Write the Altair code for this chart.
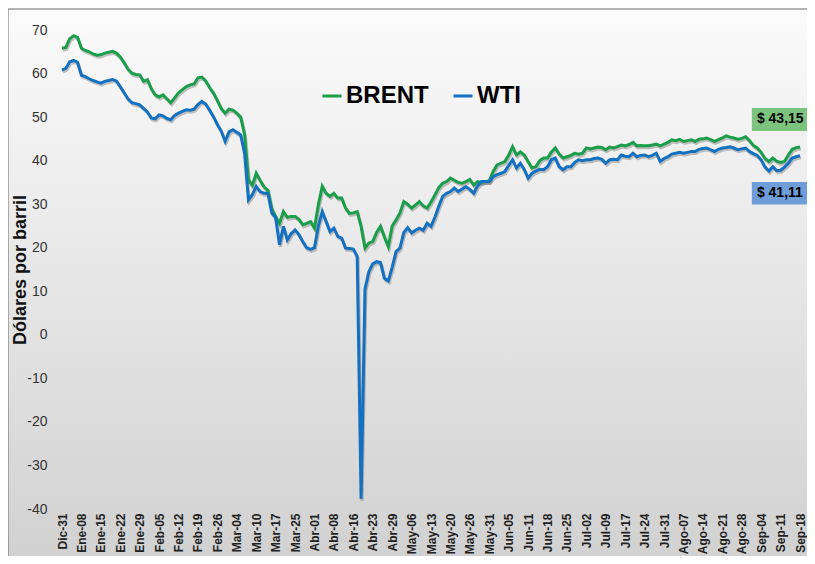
import json
import altair as alt
import pandas as pd

FONT = "Liberation Sans"

# Category labels shown on the x axis (one every 5 trading days)
tick_labels = ["Dic-31", "Ene-08", "Ene-15", "Ene-22", "Ene-29", "Feb-05", "Feb-12",
               "Feb-19", "Feb-26", "Mar-04", "Mar-10", "Mar-17", "Mar-25", "Abr-01",
               "Abr-08", "Abr-16", "Abr-23", "Abr-29", "May-06", "May-13", "May-20",
               "May-26", "May-31", "Jun-05", "Jun-11", "Jun-18", "Jun-25", "Jul-02",
               "Jul-09", "Jul-17", "Jul-24", "Jul-31", "Ago-07", "Ago-14", "Ago-21",
               "Ago-28", "Sep-04", "Sep-11", "Sep-18"]

brent = [
    65.8, 66.0, 68.0, 68.7, 68.3, 65.8, 65.3, 65.0, 64.5, 64.2,
    64.3, 64.7, 64.9, 65.1, 64.7, 63.8, 62.5, 61.0, 60.1, 59.8,
    59.7, 58.2, 58.6, 56.5, 55.1, 54.6, 55.1, 54.2, 53.3, 54.4,
    55.6, 56.3, 57.0, 57.4, 57.6, 59.0, 59.2, 58.3, 56.8, 55.5,
    53.8, 52.0, 50.9, 51.8, 51.6, 50.9, 50.0, 46.0, 35.6, 34.3,
    37.1, 35.5, 34.0, 33.2, 29.0, 27.2, 25.6, 28.3, 27.0, 27.2,
    27.2, 26.5, 25.3, 25.6, 26.0, 24.5, 29.9, 34.1, 32.5, 31.8,
    32.5, 31.4, 31.4, 29.1, 27.9, 28.0, 28.3, 24.9, 19.9, 21.1,
    21.4, 23.5, 24.9, 22.5, 20.3, 25.0, 26.4, 28.0, 30.6, 30.0,
    29.1, 29.8, 30.6, 29.6, 29.1, 30.5, 32.1, 33.8, 34.8, 35.2,
    36.0, 35.5, 35.0, 34.8, 35.2, 35.7, 34.4, 35.2, 35.0, 35.2,
    35.3, 37.5, 39.0, 39.4, 39.8, 41.3, 43.2, 41.3, 42.0, 41.3,
    39.8, 38.3, 38.6, 40.0, 40.6, 40.6, 42.0, 42.9, 41.5, 40.6,
    40.9, 41.2, 41.7, 41.5, 41.7, 42.9, 42.7, 42.9, 43.1, 43.0,
    42.5, 43.1, 42.9, 43.2, 43.6, 43.4, 43.7, 44.2, 43.4, 43.5,
    43.4, 43.4, 43.6, 43.8, 43.4, 43.8, 44.2, 44.8, 44.6, 44.9,
    44.4, 44.6, 44.8, 44.4, 44.9, 45.0, 45.2, 44.8, 44.4, 44.8,
    45.2, 45.7, 45.4, 45.2, 44.9, 45.1, 45.5, 44.6, 43.5, 42.9,
    41.9, 40.5, 39.8, 40.6, 39.9, 39.6, 39.8, 41.3, 42.6, 43.0,
    43.15]

wti = [
    60.8, 61.2, 62.7, 63.0, 62.6, 59.6, 59.3, 58.8, 58.4, 58.1,
    57.8, 58.2, 58.4, 58.6, 58.3, 57.0, 55.6, 54.2, 53.3, 53.1,
    52.8, 52.0, 51.2, 49.8, 49.6, 50.5, 50.3, 49.7, 49.4, 50.4,
    50.9, 51.3, 51.7, 51.6, 51.8, 52.9, 53.6, 53.0, 51.6, 50.1,
    48.3, 46.8, 44.4, 46.6, 47.1, 46.5, 45.9, 41.7, 31.0, 32.2,
    34.1, 32.9, 32.5, 32.5, 28.0, 26.9, 20.7, 24.9, 21.8, 23.2,
    24.1, 23.0, 21.4, 20.0, 19.6, 20.0, 25.0, 28.3, 26.0, 23.7,
    24.5, 22.6, 22.2, 19.9, 19.8, 19.7, 18.0, -37.63, 10.5, 14.5,
    16.3, 16.8, 16.6, 13.0, 12.4, 15.5, 19.1, 19.9, 23.5, 24.6,
    23.4, 24.0, 24.5, 24.0, 25.6, 24.9, 27.0, 29.5, 31.8, 32.5,
    32.9, 33.7, 32.9, 33.5, 34.0, 33.4, 32.5, 34.2, 35.2, 35.2,
    35.2, 36.3, 36.8, 37.1, 37.5, 38.9, 40.2, 38.3, 39.4, 38.0,
    36.0, 37.1, 37.6, 38.0, 37.9, 38.6, 40.2, 40.6, 38.6, 37.9,
    38.6, 38.6, 39.6, 40.2, 40.0, 40.2, 40.2, 40.5, 40.6, 40.3,
    39.4, 40.2, 40.3, 40.2, 41.3, 41.0, 40.9, 41.7, 40.9, 41.2,
    41.3, 40.9, 41.2, 41.7, 39.8, 40.5, 40.9, 41.5, 41.7, 41.9,
    41.7, 41.9, 42.1, 42.1, 42.6, 42.8, 42.9, 42.5, 42.1, 42.6,
    42.9, 43.0, 43.2, 42.9, 42.5, 42.7, 42.9, 42.1, 41.6, 41.2,
    40.2, 38.5, 37.6, 38.6, 37.7, 37.8, 38.5, 39.4, 40.6, 40.9,
    41.11]

series_names = ["BRENT", "WTI"]
line_colors = ["#1a9e4a", "#1470c0"]

# Final-value call-outs
ann_labels = ["$ 43,15", "$ 41,11"]
ann_fills = ["#7cc47e", "#6e9dd8"]

W, H = 738, 479
n = len(brent)

df = pd.DataFrame({
    "idx": list(range(n)) * 2,
    "value": brent + wti,
    "series": ["BRENT"] * n + ["WTI"] * n,
})

label_expr = json.dumps(tick_labels) + "[round(datum.value / 5)]"

x_enc = alt.X("idx:Q",
              scale=alt.Scale(domain=[0, n - 1], nice=False, zero=False),
              axis=alt.Axis(values=list(range(0, n, 5)), labelExpr=label_expr,
                            labelAngle=-90, labelFontSize=12, labelFontWeight="bold",
                            labelFont=FONT, labelColor="#222222", ticks=False,
                            domain=False, grid=False, labelPadding=4,
                            labelOverlap=False, labelFlush=False, labelBound=False,
                            title=None, zindex=1))
y_enc = alt.Y("value:Q",
              scale=alt.Scale(domain=[-40, 70], nice=False, zero=False),
              axis=alt.Axis(values=list(range(-40, 71, 10)), labelExpr="'' + datum.value",
                            labelFontSize=14, labelOverlap=False,
                            labelFont=FONT, labelColor="#333333", ticks=False,
                            domain=False, grid=False, labelPadding=15,
                            title="Dólares por barril", titleFontSize=18,
                            titleFontWeight="bold", titleFont=FONT, titleColor="#111111",
                            titleX=-37, titleY=H / 2, titleAngle=270,
                            titleAlign="center", titleBaseline="alphabetic",
                            zindex=1))

gradient = alt.LinearGradient(
    gradient="linear",
    stops=[alt.GradientStop(offset=0, color="#fbfbfb"),
           alt.GradientStop(offset=1, color="#cfcfcf")],
    x1=0, x2=0, y1=0, y2=1)

bg = alt.Chart(pd.DataFrame({"k": [0]})).mark_rect(
    fill=gradient, stroke="#6b6b6b", strokeWidth=1
).encode(x=alt.value(-54), x2=alt.value(W + 40), y=alt.value(-21), y2=alt.value(H + 80))

shadow = alt.Chart(df).mark_line(strokeWidth=3, color="#000000", opacity=0.22,
                                 xOffset=1, yOffset=2).encode(
    x=x_enc, y=y_enc, detail="series:N")

lines = alt.Chart(df).mark_line(strokeWidth=3).encode(
    x=x_enc, y=y_enc,
    color=alt.Color("series:N",
                    scale=alt.Scale(domain=series_names, range=line_colors),
                    legend=alt.Legend(orient="none", legendX=258, legendY=54,
                                      direction="horizontal", title=None,
                                      symbolType="stroke", symbolStrokeWidth=3,
                                      symbolSize=360, labelFontSize=24,
                                      labelFontWeight="bold", labelFont=FONT,
                                      labelColor="#000000", labelOffset=2,
                                      columnPadding=18)))

# boxes: idx = left edge, idx2 = right edge, value = top, value2 = bottom
box_df = pd.DataFrame({
    "fill": ann_fills,
    "idx": [177.6, 177.6],
    "idx2": [200.0, 200.0],
    "value": [52.1, 35.1],
    "value2": [46.8, 29.9],
})
text_df = pd.DataFrame({
    "label": ann_labels,
    "idx": [178.9, 178.9],
    "value": [49.5, 32.5],
})

ann_box = alt.Chart(box_df).mark_rect().encode(
    x=x_enc, x2="idx2:Q", y=y_enc, y2="value2:Q",
    fill=alt.Fill("fill:N", scale=None))

ann_text = alt.Chart(text_df).mark_text(
    align="left", baseline="middle", fontSize=14, fontWeight="bold",
    font=FONT, color="#000000").encode(x=x_enc, y=y_enc, text="label:N")

chart = alt.layer(bg, shadow, lines, ann_box, ann_text).properties(
    width=W, height=H,
    autosize=alt.AutoSizeParams(type="none"),
    padding={"left": 54, "top": 22, "right": 7, "bottom": 47},
).configure_view(strokeWidth=0)

chart.save("out.html", embed_options={"renderer": "svg", "actions": False})
